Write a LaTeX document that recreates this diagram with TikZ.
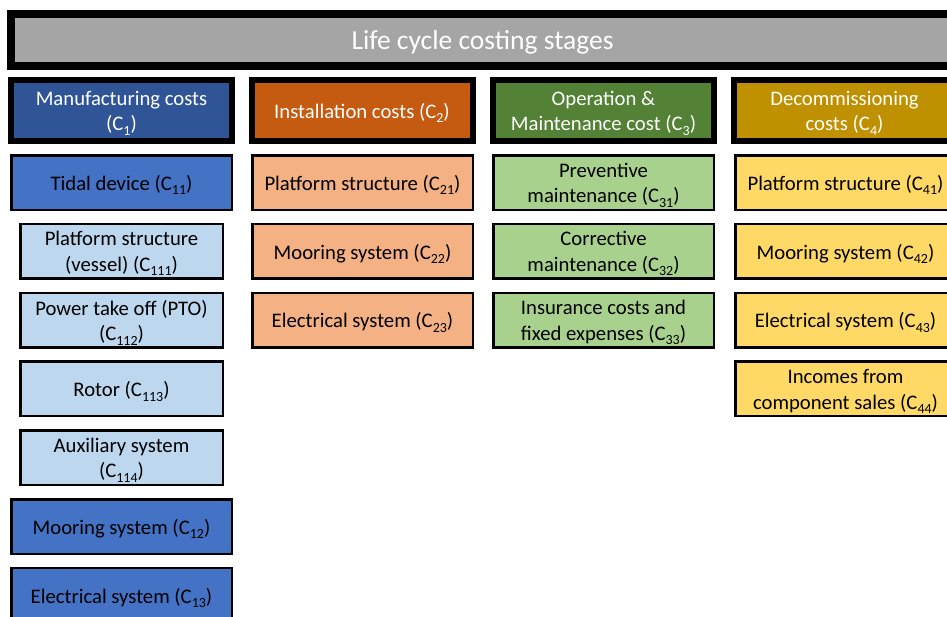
\documentclass[tikz,border=0pt]{standalone}
\usepackage{fontspec}
\setmainfont{Carlito}
\newcommand{\Cs}[1]{C\raisebox{-4.5pt}{\fontsize{14}{0}\selectfont #1}}
\newcommand{\costbox}[5]{%
  \node[#1] (#2) at (#3) {};
  \node[boxtext, text=#4] (#2t) at ([yshift=-2.5pt]#2.center) {#5};}
\definecolor{titlegray}{HTML}{A5A5A5}
\definecolor{hdone}{HTML}{2F5597}
\definecolor{hdtwo}{HTML}{C55A11}
\definecolor{hdthree}{HTML}{538135}
\definecolor{hdfour}{HTML}{BF9000}
\definecolor{midblue}{HTML}{4472C4}
\definecolor{lightblue}{HTML}{BDD7EE}
\definecolor{salmon}{HTML}{F4B183}
\definecolor{lightgreen}{HTML}{A9D18E}
\definecolor{lightyellow}{HTML}{FFD966}
\begin{document}
\begin{tikzpicture}[x=1pt,y=-1pt,
  titlebox/.style={draw=black, line width=8pt, fill=titlegray,
    minimum width=943pt, minimum height=52pt, inner sep=0pt},
  titletext/.style={text=white, inner sep=0pt, font=\fontsize{27.5}{32}\selectfont},
  boxtext/.style={align=center, inner sep=0pt, font=\fontsize{20.7}{25.5}\selectfont},
  headbox/.style={draw=black, line width=6pt,
    minimum width=221pt, minimum height=61pt, inner sep=0pt},
  subbox/.style={draw=black, line width=2.5pt,
    minimum width=220.5pt, minimum height=54.5pt, inner sep=0pt},
  narrowbox/.style={subbox, minimum width=202.5pt, fill=lightblue}
]
\useasboundingbox (0,0) rectangle (947,616);
\clip (0,0) rectangle (947,616);

\node[titlebox] (title) at (482.5,40) {};
\node[titletext] (titlet) at ([yshift=-2.5pt]title.center) {Life cycle costing stages};

\costbox{headbox, fill=hdone}{c1}{121.5,110.5}{white}{Manufacturing costs\\(\Cs{1})}
\costbox{headbox, fill=hdtwo}{c2}{362,110.5}{white}{Installation costs (\Cs{2})}
\costbox{headbox, fill=hdthree}{c3}{603.5,110.5}{white}{Operation \&\\Maintenance cost (\Cs{3})}
\costbox{headbox, fill=hdfour}{c4}{844.5,110.5}{white}{Decommissioning\\costs (\Cs{4})}

% column 1
\costbox{subbox, fill=midblue}{c11}{121.5,182.5}{black}{Tidal device (\Cs{11})}
\costbox{narrowbox}{c111}{121.5,251.3}{black}{Platform structure\\(vessel) (\Cs{111})}
\costbox{narrowbox}{c112}{121.5,320.1}{black}{Power take off (PTO)\\(\Cs{112})}
\costbox{narrowbox}{c113}{121.5,388.9}{black}{Rotor (\Cs{113})}
\costbox{narrowbox}{c114}{121.5,457.7}{black}{Auxiliary system\\(\Cs{114})}
\costbox{subbox, fill=midblue}{c12}{121.5,526.5}{black}{Mooring system (\Cs{12})}
\costbox{subbox, fill=midblue}{c13}{121.5,595.3}{black}{Electrical system (\Cs{13})}

% column 2
\costbox{subbox, fill=salmon}{c21}{362.5,182.5}{black}{Platform structure (\Cs{21})}
\costbox{subbox, fill=salmon}{c22}{362.5,251.3}{black}{Mooring system (\Cs{22})}
\costbox{subbox, fill=salmon}{c23}{362.5,320.1}{black}{Electrical system (\Cs{23})}

% column 3
\costbox{subbox, fill=lightgreen}{c31}{603.5,182.5}{black}{Preventive\\maintenance (\Cs{31})}
\costbox{subbox, fill=lightgreen}{c32}{603.5,251.3}{black}{Corrective\\maintenance (\Cs{32})}
\costbox{subbox, fill=lightgreen}{c33}{603.5,320.1}{black}{Insurance costs and\\fixed expenses (\Cs{33})}

% column 4
\costbox{subbox, fill=lightyellow}{c41}{845.5,182.5}{black}{Platform structure (\Cs{41})}
\costbox{subbox, fill=lightyellow}{c42}{845.5,251.3}{black}{Mooring system (\Cs{42})}
\costbox{subbox, fill=lightyellow}{c43}{845.5,320.1}{black}{Electrical system (\Cs{43})}
\costbox{subbox, fill=lightyellow}{c44}{845.5,388.9}{black}{Incomes from\\component sales (\Cs{44})}
\end{tikzpicture}
\end{document}
